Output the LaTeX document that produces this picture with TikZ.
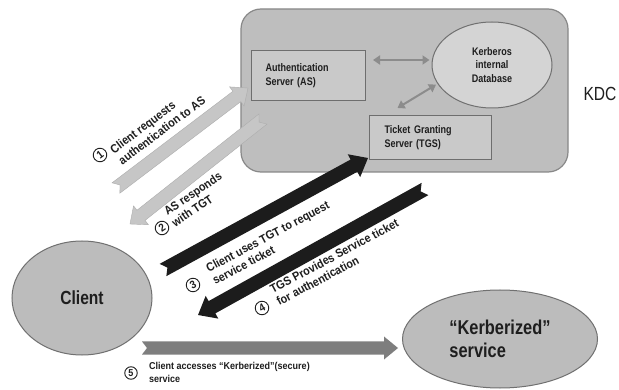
\documentclass[tikz,border=0pt]{standalone}
\usepackage{fontspec}
\setmainfont{Liberation Sans}[FakeStretch=0.82]
\newfontfamily\lblfont{Liberation Sans}[FakeStretch=0.9]
\usetikzlibrary{calc,arrows.meta,shapes.geometric}
\definecolor{kdcfill}{HTML}{BEBEBE}
\definecolor{kdcline}{HTML}{888888}
\definecolor{boxfill}{HTML}{C9C9C9}
\definecolor{boxline}{HTML}{6E6E6E}
\definecolor{dbfill}{HTML}{D4D4D4}
\definecolor{ink}{HTML}{1E1E1E}
\definecolor{lightarrow}{HTML}{C6C6C6}
\definecolor{lightedge}{HTML}{ADADAD}
\definecolor{darkarrow}{HTML}{1C1C1C}
\definecolor{midarrow}{HTML}{7E7E7E}
\definecolor{innerarrow}{HTML}{8C8C8C}
\definecolor{ellfill}{HTML}{BCBCBC}
\definecolor{ellline}{HTML}{707070}
% fat arrow: #1 style, #2 from, #3 to, #4 half shaft, #5 half head, #6 head length, #7 notch depth
\newcommand{\fatarrow}[7]{%
  \coordinate (faP) at ($(#3)!#6!(#2)$);
  \path[#1] ($(#2)!#4!90:(#3)$) -- ($(faP)!#4!-90:(#2)$) -- ($(faP)!#5!-90:(#2)$)
    -- (#3) -- ($(faP)!#5!90:(#2)$) -- ($(faP)!#4!90:(#2)$)
    -- ($(#2)!#4!-90:(#3)$) -- ($(#2)!#7!(#3)$) -- cycle;}
\begin{document}
\begin{tikzpicture}[x=1pt,y=-1pt,
  kdcbox/.style={draw=kdcline, fill=kdcfill, line width=1.2pt, rounded corners=20pt},
  srvbox/.style={draw=boxline, fill=boxfill, line width=1pt, align=left, text=ink,
    font=\fontsize{11}{14.5}\selectfont\bfseries, anchor=north west},
  dbell/.style={ellipse, draw=ellline, fill=dbfill, line width=1pt, inner sep=0pt,
    minimum width=120pt, minimum height=86pt, align=center, text=ink,
    font=\fontsize{11}{13.5}\selectfont\bfseries},
  bigell/.style={ellipse, draw=ellline, fill=ellfill, line width=1pt, inner sep=0pt, text=ink},
  inner/.style={draw=innerarrow, line width=2pt, {Triangle[length=7pt,width=9pt]}-{Triangle[length=7pt,width=9pt]}},
  lbl/.style={align=left, text=ink, inner sep=0pt, font=\lblfont\bfseries\fontsize{12}{14}\selectfont},
  smalllbl/.style={align=left, text=ink, inner sep=0pt, font=\lblfont\bfseries\fontsize{10}{13}\selectfont},
  numc/.style={circle, draw=ink, line width=0.9pt, inner sep=0pt, minimum size=13.5pt,
    text=ink, font=\lblfont\bfseries\fontsize{11}{11}\selectfont},
  lightfat/.style={fill=lightarrow, draw=lightedge, line width=0.4pt},
  darkfat/.style={fill=darkarrow},
  midfat/.style={fill=midarrow}]
\useasboundingbox (0,0) rectangle (619,390);
\fill[white] (0,0) rectangle (619,390);

% KDC
\node[kdcbox, minimum width=327pt, minimum height=163pt] (kdc) at (404.5,90.5) {};
\node[srvbox, minimum width=114pt, minimum height=50pt, text width=86pt, inner xsep=14pt] (as) at (251,50) {Authentication\\Server (AS)};
\node[srvbox, minimum width=122pt, minimum height=44pt, text width=92pt, inner xsep=15pt] (tgs) at (369,115) {Ticket Granting\\Server (TGS)};
\node[dbell] (db) at (492,65) {Kerberos\\internal\\Database};
\node[text=ink, font=\fontsize{19}{22}\selectfont] (kdclabel) at (600,94) {KDC};

\coordinate (i1s) at ($(as.north east)+(7,10)$);
\coordinate (i1e) at ($(db.west)+(-2,-5)$);
\draw[inner] (i1s) -- (i1e);
\coordinate (i2s) at ($(db.200)+(-2,0)$);
\coordinate (i2e) at ($(tgs.north)+(-33,-7)$);
\draw[inner] (i2s) -- (i2e);

% Client and service
\node[bigell, minimum width=140pt, minimum height=114pt, font=\fontsize{19}{22}\selectfont\bfseries] (client) at (82,298) {Client};
\node[bigell, minimum width=195pt, minimum height=98pt, align=left, font=\fontsize{20}{23}\selectfont\bfseries] (svc) at (500,339) {“Kerberized”\\service};

% fat arrows
\coordinate (a1s) at (116,188); \coordinate (a1e) at (248,88);
\coordinate (a2s) at (263,119); \coordinate (a2e) at (130,224);
\coordinate (a3s) at (163,270); \coordinate (a3e) at (368,158);
\coordinate (a4s) at (425,189); \coordinate (a4e) at (198,315);
\coordinate (a5s) at (142,348); \coordinate (a5e) at (398,348);
\fatarrow{lightfat}{a1s}{a1e}{6.5pt}{12pt}{14pt}{5pt}
\fatarrow{lightfat}{a2s}{a2e}{6.5pt}{12pt}{14pt}{5pt}
\fatarrow{darkfat}{a3s}{a3e}{7pt}{13pt}{16pt}{5pt}
\fatarrow{darkfat}{a4s}{a4e}{7pt}{13pt}{16pt}{5pt}
\fatarrow{midfat}{a5s}{a5e}{6.5pt}{11.5pt}{14pt}{5pt}

% labels
\node[numc, rotate=37] (c1) at (100,155) {1};
\node[lbl, rotate=37, anchor=west] (l1) at (115.5,156.5) {Client requests\\authentication to AS};
\node[numc, rotate=34] (c2) at (162,228) {2};
\node[lbl, rotate=34, anchor=west] (l2) at (169,218) {AS responds\\with TGT};
\node[numc, rotate=28] (c3) at (193,285) {3};
\node[lbl, rotate=28, anchor=west] (l3) at (210,275) {Client uses TGT to request\\service ticket};
\node[numc, rotate=28] (c4) at (262,308) {4};
\node[lbl, rotate=28, anchor=west] (l4) at (274,296) {TGS Provides Service ticket\\for authentication};
\node[numc, minimum size=12.5pt, font=\lblfont\bfseries\fontsize{10}{10}\selectfont] (c5) at (131,373) {5};
\node[smalllbl, anchor=west] (l5) at (149,372.5) {Client accesses “Kerberized”(secure)\\service};
\end{tikzpicture}
\end{document}
